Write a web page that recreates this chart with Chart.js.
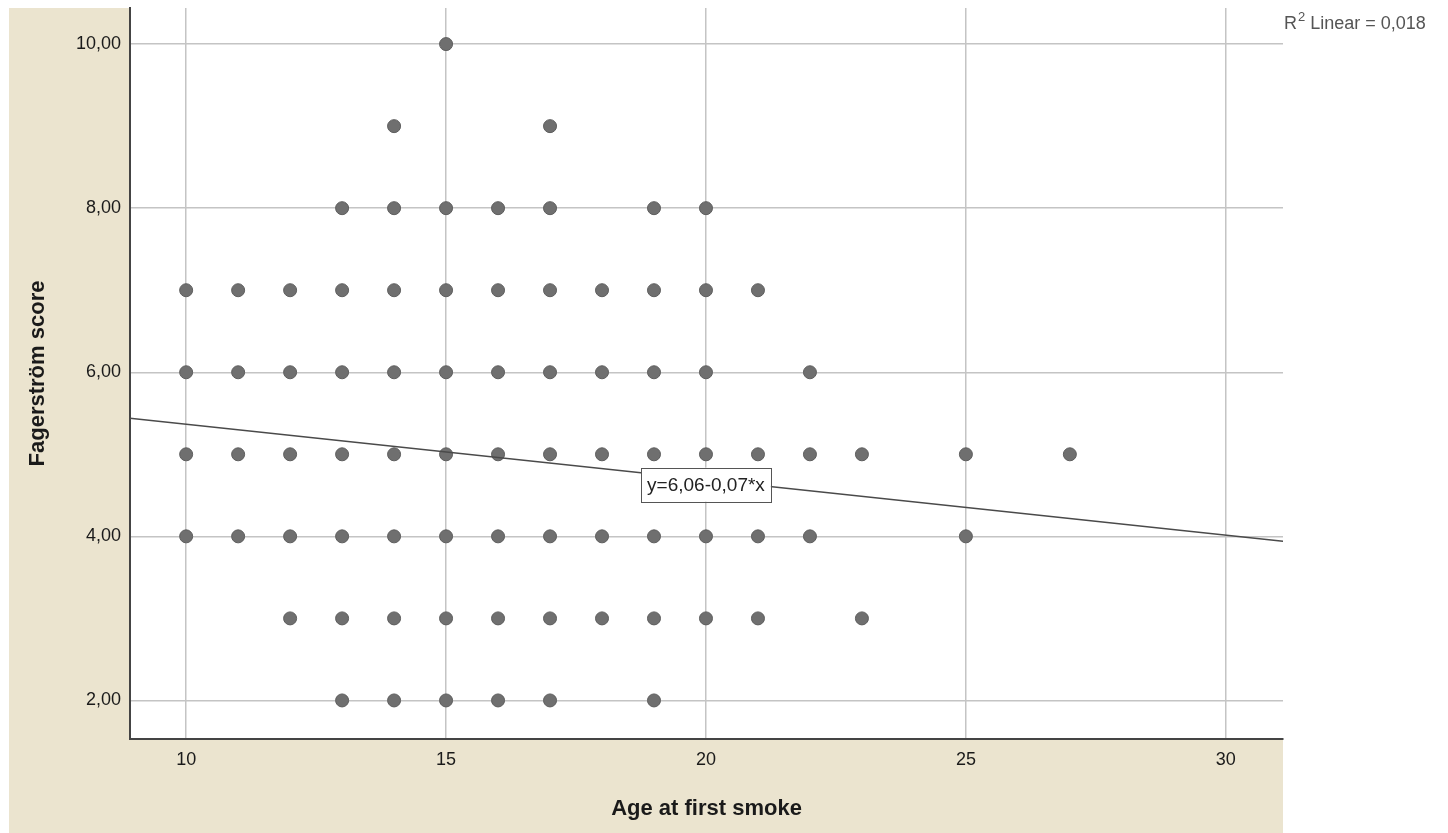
<!DOCTYPE html>
<html lang="en">
<head>
    <meta charset="UTF-8">
    <title>Fagerström score by age at first smoke</title>
    <script src="https://cdn.jsdelivr.net/npm/chart.js"></script>
    <style>
        body { margin: 0; background: #fff; }
        #wrap { width: 1448px; height: 833px; }
    </style>
</head>
<body>
    <div id="wrap"><canvas id="scatterChart"></canvas></div>

    <script>
        const score10 = [15];
        const score9 = [14, 17];
        const score8 = [13, 14, 15, 16, 17, 19, 20];
        const score7 = [10, 11, 12, 13, 14, 15, 16, 17, 18, 19, 20, 21];
        const score6 = [10, 11, 12, 13, 14, 15, 16, 17, 18, 19, 20, 22];
        const score5 = [10, 11, 12, 13, 14, 15, 16, 17, 18, 19, 20, 21, 22, 23, 25, 27];
        const score4 = [10, 11, 12, 13, 14, 15, 16, 17, 18, 19, 20, 21, 22, 25];
        const score3 = [12, 13, 14, 15, 16, 17, 18, 19, 20, 21, 23];
        const score2 = [13, 14, 15, 16, 17, 19];

        // fit line end points, as drawn
        const fitAges = [8.92, 31.1];
        const fitScores = [5.44, 3.94];

        const xTicks = [10, 15, 20, 25, 30];
        const yTicks = [2, 4, 6, 8, 10];

        const equationText = "y=6,06-0,07*x";
        const equationAt = { x: 20, y: 4.63 };
        const rSquared = "0,018";

        const rows = [
            [10, score10], [9, score9], [8, score8], [7, score7], [6, score6],
            [5, score5], [4, score4], [3, score3], [2, score2]
        ];
        const points = [];
        rows.forEach(([score, ages]) => {
            ages.forEach(age => points.push({ x: age, y: score }));
        });
        const fitPoints = fitAges.map((a, i) => ({ x: a, y: fitScores[i] }));

        const BEIGE = "#ebe4cf";
        const FONT = "'Liberation Sans', Arial, sans-serif";

        const backdrop = {
            id: "backdrop",
            beforeDraw(chart) {
                const { ctx, chartArea } = chart;
                ctx.save();
                ctx.fillStyle = "#ffffff";
                ctx.fillRect(0, 0, chart.width, chart.height);
                ctx.fillStyle = BEIGE;
                ctx.fillRect(9, chartArea.top, chartArea.right - 9, chart.height - chartArea.top);
                ctx.fillStyle = "#ffffff";
                ctx.fillRect(chartArea.left, chartArea.top,
                    chartArea.right - chartArea.left, chartArea.bottom - chartArea.top);
                ctx.restore();
            }
        };

        const labels = {
            id: "labels",
            afterDatasetsDraw(chart) {
                const { ctx, scales, chartArea } = chart;
                ctx.save();

                // equation box
                const cx = scales.x.getPixelForValue(equationAt.x);
                const cy = scales.y.getPixelForValue(equationAt.y);
                ctx.font = "19px " + FONT;
                const w = ctx.measureText(equationText).width + 12;
                const h = 34;
                ctx.fillStyle = "#ffffff";
                ctx.fillRect(cx - w / 2, cy - h / 2, w, h);
                ctx.strokeStyle = "#555555";
                ctx.lineWidth = 1;
                ctx.strokeRect(Math.round(cx - w / 2) + 0.5, Math.round(cy - h / 2) + 0.5, Math.round(w), h);
                ctx.fillStyle = "#222222";
                ctx.textAlign = "center";
                ctx.textBaseline = "middle";
                ctx.fillText(equationText, cx, cy + 1);

                // R² note, top right outside the plot
                ctx.fillStyle = "#555555";
                ctx.textAlign = "left";
                ctx.textBaseline = "alphabetic";
                let x = chartArea.right + 1;
                const base = 29;
                ctx.font = "18px " + FONT;
                ctx.fillText("R", x, base);
                x += ctx.measureText("R").width;
                ctx.font = "13px " + FONT;
                ctx.fillText("2", x + 1, base - 8);
                x += ctx.measureText("2").width + 1;
                ctx.font = "18px " + FONT;
                ctx.fillText(" Linear = " + rSquared, x, base);

                ctx.restore();
            }
        };

        const ctx = document.getElementById("scatterChart").getContext("2d");
        new Chart(ctx, {
            type: "scatter",
            data: {
                datasets: [
                    {
                        label: "Fit",
                        type: "line",
                        data: fitPoints,
                        borderColor: "#4a4a4a",
                        borderWidth: 1.5,
                        pointRadius: 0,
                        fill: false,
                        order: 0
                    },
                    {
                        label: "Fagerström score",
                        data: points,
                        backgroundColor: "#6f6f6f",
                        borderColor: "#5e5e5e",
                        borderWidth: 1,
                        pointRadius: 6.5,
                        order: 1
                    }
                ]
            },
            options: {
                responsive: true,
                maintainAspectRatio: false,
                animation: false,
                layout: { padding: { left: 0, right: 165, top: 8, bottom: 0 } },
                plugins: {
                    legend: { display: false },
                    tooltip: { enabled: false }
                },
                scales: {
                    x: {
                        type: "linear",
                        min: 8.92,
                        max: 31.1,
                        afterFit: scale => {
                            scale.height = 94;
                            scale.paddingLeft = 0;
                            scale.paddingRight = 0;
                        },
                        afterBuildTicks: scale => { scale.ticks = xTicks.map(v => ({ value: v })); },
                        grid: { color: "#c4c4c4", lineWidth: 1.5, drawTicks: false },
                        border: { color: "#444444", width: 2 },
                        ticks: {
                            padding: 10,
                            color: "#1a1a1a",
                            font: { family: FONT, size: 18 },
                            callback: v => String(v)
                        },
                        title: {
                            display: true,
                            text: "Age at first smoke",
                            color: "#1a1a1a",
                            font: { family: FONT, size: 22, weight: "bold" },
                            padding: { top: 0, bottom: 11 }
                        }
                    },
                    y: {
                        type: "linear",
                        min: 1.53,
                        max: 10.44,
                        afterFit: scale => {
                            scale.width = 130;
                            scale.paddingTop = 0;
                            scale.paddingBottom = 0;
                        },
                        afterBuildTicks: scale => { scale.ticks = yTicks.map(v => ({ value: v })); },
                        grid: { color: "#c4c4c4", lineWidth: 1.5, drawTicks: false },
                        border: { color: "#444444", width: 2 },
                        ticks: {
                            padding: 9,
                            color: "#1a1a1a",
                            font: { family: FONT, size: 18 },
                            callback: v => v.toFixed(2).replace(".", ",")
                        },
                        title: {
                            display: true,
                            text: "Fagerström score",
                            color: "#1a1a1a",
                            font: { family: FONT, size: 22, weight: "bold" },
                            padding: { top: 25, bottom: 0 }
                        }
                    }
                }
            },
            plugins: [backdrop, labels]
        });
    </script>
</body>
</html>
